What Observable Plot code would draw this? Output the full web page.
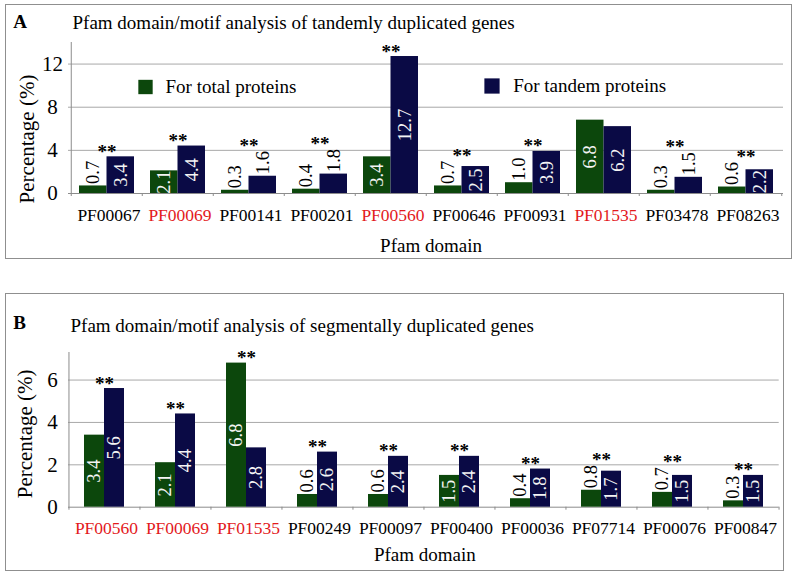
<!DOCTYPE html>
<html>
<head>
<meta charset="utf-8">
<script src="https://cdn.jsdelivr.net/npm/d3@7"></script>
<script src="https://cdn.jsdelivr.net/npm/@observablehq/plot@0.6"></script>
<style>
  html, body { margin: 0; padding: 0; background: #fff; }
  #wrap { position: relative; width: 796px; height: 575px; overflow: hidden; background: #fff; }
  .box { position: absolute; border: 1px solid #8f8f8f; box-sizing: border-box; }
  #wrap svg { position: absolute; left: 0; }
</style>
</head>
<body>
<div id="wrap">
  <div class="box" style="left:5px;top:4px;width:787px;height:255px;"></div>
  <div class="box" style="left:5px;top:293px;width:779px;height:278px;"></div>
</div>
<script>
// ---------- data ----------
const seriesNames = ["For total proteins", "For tandem proteins"];

const catsA   = ["PF00067","PF00069","PF00141","PF00201","PF00560","PF00646","PF00931","PF01535","PF03478","PF08263"];
const totalA  = [0.7, 2.1, 0.3, 0.4, 3.4, 0.7, 1.0, 6.8, 0.3, 0.6];
const tandemA = [3.4, 4.4, 1.6, 1.8, 12.7, 2.5, 3.9, 6.2, 1.5, 2.2];
const starsA  = [true, true, true, true, true, true, true, false, true, true];
const redA    = ["PF00069","PF00560","PF01535"];
const ticksA  = [0, 4, 8, 12];

const catsB   = ["PF00560","PF00069","PF01535","PF00249","PF00097","PF00400","PF00036","PF07714","PF00076","PF00847"];
const totalB  = [3.4, 2.1, 6.8, 0.6, 0.6, 1.5, 0.4, 0.8, 0.7, 0.3];
const tandemB = [5.6, 4.4, 2.8, 2.6, 2.4, 2.4, 1.8, 1.7, 1.5, 1.5];
const starsB  = [true, true, true, true, true, true, true, true, true, true];
const redB    = ["PF00560","PF00069","PF01535"];
const ticksB  = [0, 2, 4, 6];

const titleA = "Pfam domain/motif analysis of tandemly duplicated genes";
const titleB = "Pfam domain/motif analysis of segmentally duplicated genes";

// ---------- styling ----------
const GREEN = "#0c470c";
const NAVY = "#0a0a45";
const RED = "#e3191c";
const SERIF = "'Liberation Serif', 'Times New Roman', Times, serif";

function panel(cfg) {
  const {cats, total, tandem, stars, red, yMax, ticks, height, mt, mb, ml, mr, groupW,
         letter, title, pos, legend} = cfg;
  const width = 796;
  const n = cats.length;
  const step = (width - ml - mr) / n;
  const p = 1 - groupW / step;
  const ppu = (height - mt - mb) / yMax;
  const bw = groupW;
  const valFont = 18.5;
  const labelLen = 1.25 * valFont + 2;
  const rows = cats.map((c, i) => ({cat: c, i, total: total[i], tandem: tandem[i], star: stars[i], red: red.includes(c)}));
  const isIn = v => v * ppu >= 21;
  const topOf = r => Math.max(...[r.total, r.tandem].map(v => isIn(v) ? v : v + labelLen / ppu));
  const fmt = v => v.toFixed(1);
  const tickDown = 3 / ppu;

  const marks = [
    Plot.ruleY(ticks.filter(t => t > 0), {y: d => d, stroke: "#a8a8a8", strokeWidth: 1}),
    Plot.ruleY([0], {y: d => d, stroke: "#8c8c8c", strokeWidth: 1}),
    // category separators (ticks) and the y axis line
    Plot.ruleX(rows, {x: "cat", dx: -step / 2, y1: -tickDown, y2: r => r.i === 0 ? yMax : 0, stroke: "#8c8c8c"}),
    Plot.ruleX(rows.slice(-1), {x: "cat", dx: step / 2, y1: -tickDown, y2: 0, stroke: "#8c8c8c"}),
    // bars
    Plot.barY(rows, {x: "cat", y: "total", fill: GREEN, insetRight: bw / 2}),
    Plot.barY(rows, {x: "cat", y: "tandem", fill: NAVY, insetLeft: bw / 2}),
    // value labels inside bars (white, centred)
    Plot.text(rows.filter(r => isIn(r.total)), {x: "cat", y: r => r.total / 2, text: r => fmt(r.total), rotate: -90,
      dx: -bw / 4, fill: "#f4f4f4", fontSize: valFont}),
    Plot.text(rows.filter(r => isIn(r.tandem)), {x: "cat", y: r => r.tandem / 2, text: r => fmt(r.tandem), rotate: -90,
      dx: bw / 4, fill: "#f4f4f4", fontSize: valFont}),
    // value labels above short bars (black)
    Plot.text(rows.filter(r => !isIn(r.total)), {x: "cat", y: "total", text: r => fmt(r.total), rotate: -90,
      textAnchor: "start", dx: -bw / 4, dy: -2, fill: "black", fontSize: valFont}),
    Plot.text(rows.filter(r => !isIn(r.tandem)), {x: "cat", y: "tandem", text: r => fmt(r.tandem), rotate: -90,
      textAnchor: "start", dx: bw / 4, dy: -2, fill: "black", fontSize: valFont}),
    // significance stars
    Plot.text(rows.filter(r => r.star), {x: "cat", y: topOf, text: () => "**", lineAnchor: "bottom", dy: 1,
      fill: "black", fontSize: 19, fontWeight: "bold"}),
    // x tick labels
    Plot.text(rows.filter(r => !r.red), {x: "cat", frameAnchor: "bottom", text: "cat", lineAnchor: "bottom",
      dx: 2, dy: pos.xlab, fill: "black", fontSize: 17.5}),
    Plot.text(rows.filter(r => r.red), {x: "cat", frameAnchor: "bottom", text: "cat", lineAnchor: "bottom",
      dx: 2, dy: pos.xlab, fill: RED, fontSize: 17.5}),
    // y tick labels
    Plot.text(ticks, {y: d => d, text: d => String(d), frameAnchor: "left", dx: -16, textAnchor: "middle",
      fill: "black", fontSize: 21}),
    // axis titles
    Plot.text(["Percentage (%)"], {frameAnchor: "left", rotate: -90, textAnchor: "middle", dx: pos.ylabX, dy: pos.ylabY,
      fill: "black", fontSize: 21}),
    Plot.text(["Pfam domain"], {frameAnchor: "bottom", textAnchor: "middle", lineAnchor: "bottom",
      dx: pos.xtitX, dy: pos.xtitY, fill: "black", fontSize: 19}),
    // panel letter and title
    Plot.text([letter], {frameAnchor: "top-left", textAnchor: "start", lineAnchor: "bottom",
      dx: -55.3, dy: pos.letterY, fill: "black", fontSize: 19, fontWeight: "bold"}),
    Plot.text([title], {frameAnchor: "top-left", textAnchor: "start", lineAnchor: "bottom",
      dx: pos.titleX, dy: pos.titleY, fill: "black", fontSize: 19})
  ];
  if (legend) {
    marks.push(
      Plot.dot([0], {frameAnchor: "top-left", dx: 77, dy: 44.5, symbol: "square", r: 8.1, fill: GREEN, stroke: null}),
      Plot.text([seriesNames[0]], {frameAnchor: "top-left", textAnchor: "start", lineAnchor: "bottom",
        dx: 97, dy: 50, fill: "black", fontSize: 19}),
      Plot.dot([0], {frameAnchor: "top-left", dx: 423.5, dy: 43.5, symbol: "square", r: 8.6, fill: NAVY, stroke: null}),
      Plot.text([seriesNames[1]], {frameAnchor: "top-left", textAnchor: "start", lineAnchor: "bottom",
        dx: 444.7, dy: 49, fill: "black", fontSize: 19})
    );
  }
  return Plot.plot({
    width, height,
    marginLeft: ml, marginRight: mr, marginTop: mt, marginBottom: mb,
    x: {type: "band", domain: cats, paddingInner: p, paddingOuter: p / 2, axis: null},
    y: {domain: [0, yMax], axis: null},
    style: {fontFamily: SERIF, background: "transparent", overflow: "visible"},
    marks
  });
}

const svgA = panel({
  cats: catsA, total: totalA, tandem: tandemA, stars: starsA, red: redA, yMax: 14, ticks: ticksA,
  height: 262, mt: 42, mb: 69, ml: 68, mr: 13, groupW: 55, letter: "A", title: titleA, legend: true,
  pos: {xlab: 27, ylabX: -41.3, ylabY: 21, xtitX: 5, xtitY: 58, letterY: -15, titleX: 4, titleY: -14}
});
svgA.style.top = "0px";

const svgB = panel({
  cats: catsB, total: totalB, tandem: tandemB, stars: starsB, red: redB, yMax: 7.3, ticks: ticksB,
  height: 290, mt: 72, mb: 63.3, ml: 68, mr: 17.3, groupW: 40, letter: "B", title: titleB, legend: false,
  pos: {xlab: 26.3, ylabX: -43, ylabY: 4, xtitX: 1, xtitY: 53.3, letterY: -24, titleX: 2, titleY: -21}
});
svgB.style.top = "280px";

const wrap = document.getElementById("wrap");
wrap.appendChild(svgA);
wrap.appendChild(svgB);
</script>
</body>
</html>
